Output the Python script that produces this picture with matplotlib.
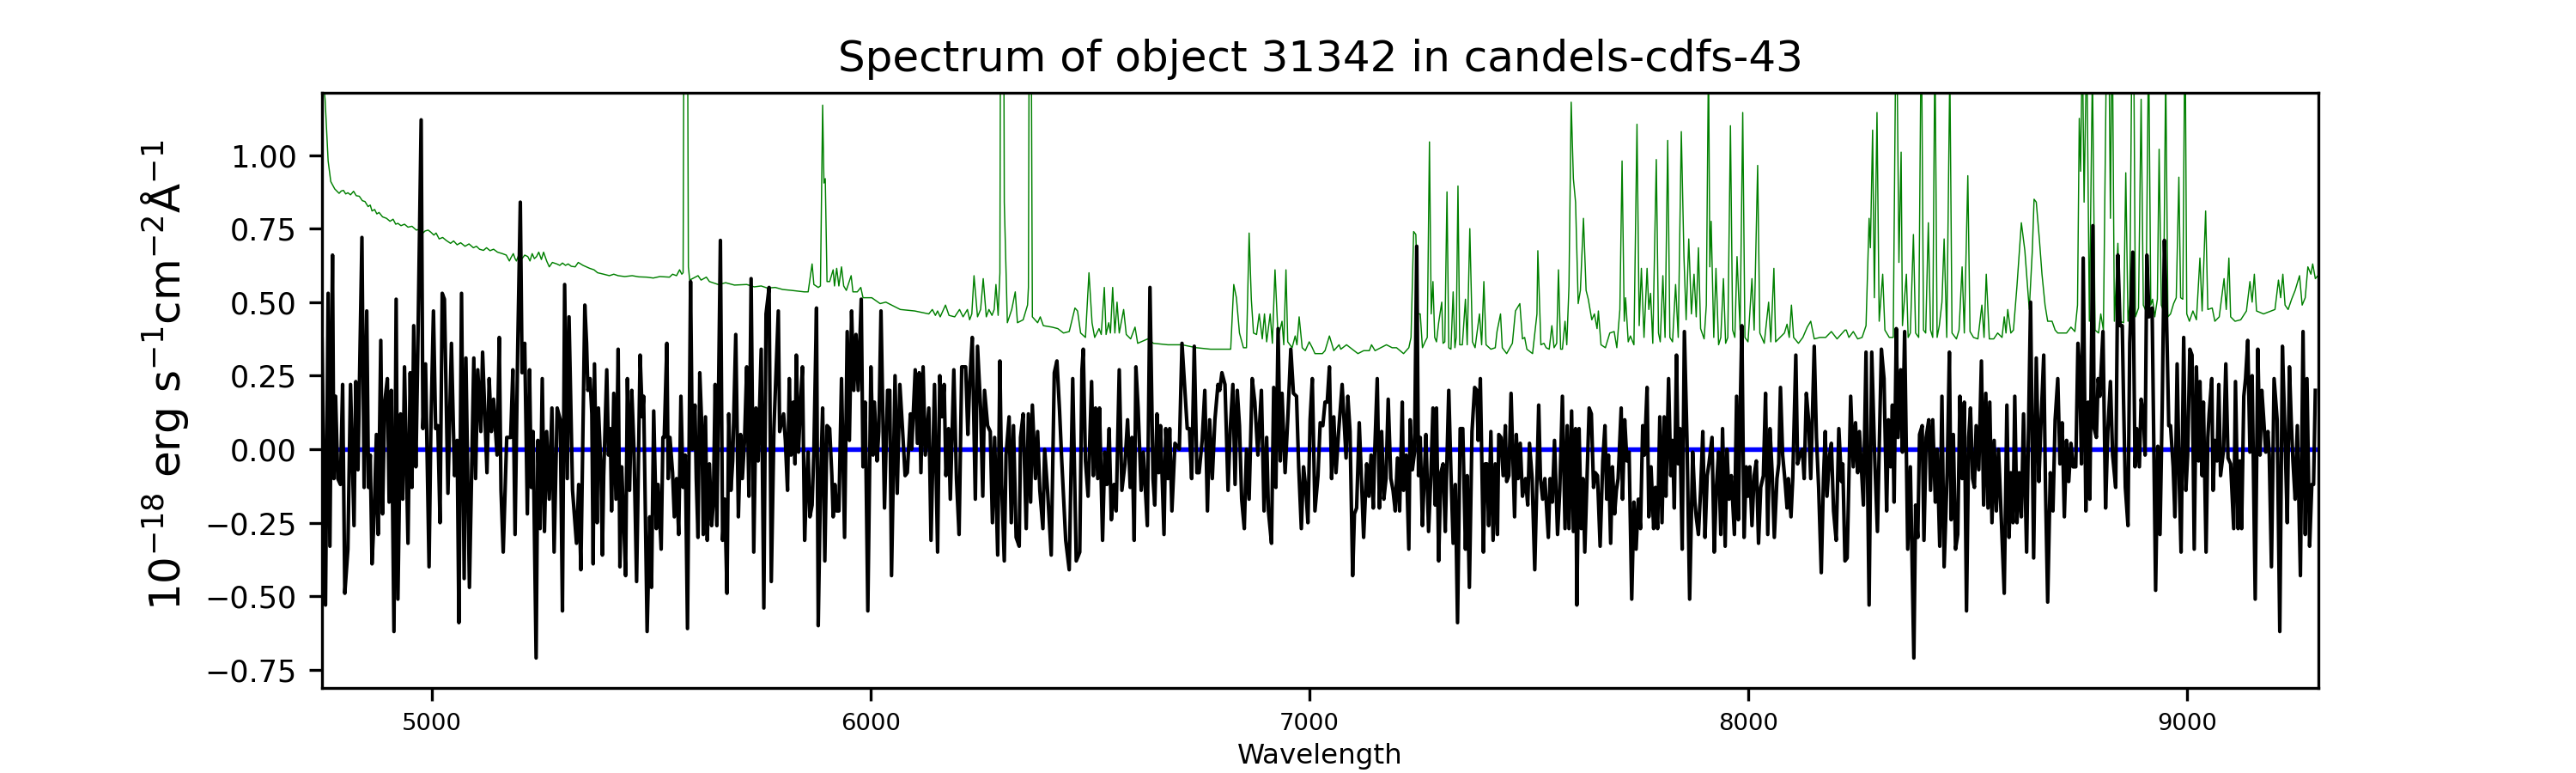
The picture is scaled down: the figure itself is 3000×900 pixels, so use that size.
import matplotlib
matplotlib.use("Agg")
import matplotlib.pyplot as plt

# object spectrum in eight chunks (wavelength in A, flux in 1e-18 cgs)
wl1 = [4750, 4758, 4764, 4768, 4774, 4777, 4781, 4786, 4792, 4797,
       4802, 4809, 4815, 4823, 4827, 4832, 4841, 4846, 4852, 4856,
       4860, 4864, 4869, 4874, 4878, 4884, 4888, 4893, 4899, 4903,
       4908, 4914, 4919, 4923, 4929, 4934, 4938, 4946, 4951, 4955,
       4959, 4964, 4968, 4976, 4980, 4986, 4994, 4998, 5004, 5009,
       5014, 5019, 5024, 5029, 5037, 5045, 5052, 5058, 5062, 5068,
       5074, 5078, 5086, 5096, 5100, 5105, 5112, 5116, 5122, 5126,
       5131, 5136, 5141, 5149, 5154, 5158, 5163, 5171, 5180, 5185,
       5190, 5196, 5202, 5206, 5212, 5218, 5223, 5227, 5231, 5238,
       5242, 5247, 5252, 5257, 5262, 5268, 5274, 5279, 5286, 5293,
       5298, 5303, 5309, 5313, 5321]
fx1 = [0.375, -0.53, 0.53, -0.33, 0.66, -0.10, 0.18, -0.10, -0.12, 0.22,
       -0.49, -0.34, 0.22, -0.26, 0.23, -0.07, 0.72, -0.13, 0.47, -0.13,
       -0.02, -0.39, -0.22, 0.05, -0.29, 0.37, -0.22, 0.16, 0.24, -0.18,
       0.20, -0.62, 0.51, -0.51, 0.12, -0.17, 0.28, -0.32, 0.26, -0.13,
       0.42, -0.06, 0.30, 1.12, 0.07, 0.29, -0.40, 0.06, 0.47, 0.07,
       0.08, -0.25, 0.53, 0.51, -0.15, 0.36, -0.09, 0.03, -0.59, 0.53,
       -0.44, 0.31, -0.47, 0.31, -0.10, 0.27, 0.06, 0.33, 0.08, -0.08,
       0.24, 0.06, 0.17, -0.02, 0.38, -0.14, -0.35, 0.04, 0.04, 0.27,
       -0.29, 0.34, 0.84, 0.26, 0.36, -0.22, 0.27, -0.13, 0.06, -0.71,
       0.03, -0.27, 0.24, -0.28, 0.06, -0.17, 0.14, -0.35, 0.14, 0.10,
       -0.55, 0.56, -0.10, 0.45, -0.14]

wl2 = [5330, 5335, 5340, 5349, 5353, 5356, 5361, 5365, 5368, 5371,
       5377, 5380, 5386, 5389, 5392, 5399, 5403, 5407, 5410, 5415,
       5420, 5425, 5429, 5433, 5438, 5442, 5446, 5451, 5456, 5461,
       5467, 5475, 5480, 5483, 5491, 5497, 5501, 5506, 5512, 5516,
       5523, 5527, 5530, 5536, 5539, 5543, 5549, 5553, 5558, 5563,
       5568, 5573, 5578, 5583, 5590, 5594, 5600, 5603, 5607, 5611,
       5616, 5619, 5624, 5628, 5633, 5638, 5642, 5646, 5650, 5658,
       5663, 5668, 5673, 5677, 5682, 5686, 5693, 5699, 5704, 5708,
       5713, 5718, 5723, 5728, 5734, 5739, 5744, 5751, 5757, 5762,
       5769, 5774, 5780, 5790, 5793, 5802, 5806, 5811, 5815, 5819,
       5824, 5828, 5831, 5836, 5840, 5845, 5850, 5854, 5858, 5862,
       5867, 5871, 5877, 5881, 5886, 5891, 5896, 5901]
fx2 = [-0.32, -0.12, -0.41, 0.49, 0.36, 0.20, 0.24, 0.12, -0.39, 0.29,
       -0.25, 0.14, -0.08, -0.36, -0.09, 0.27, -0.02, 0.07, -0.21, 0.19,
       -0.17, 0.34, -0.40, -0.06, -0.26, -0.43, 0.24, -0.14, 0.20, 0.00,
       -0.45, 0.32, 0.11, 0.18, -0.62, -0.23, -0.47, 0.13, -0.27, -0.12,
       -0.34, 0.04, 0.04, 0.36, -0.10, 0.04, -0.08, -0.23, -0.10, -0.29,
       0.18, -0.13, -0.02, -0.61, 0.57, 0.00, 0.15, -0.10, -0.30, 0.26,
       0.06, -0.29, 0.11, -0.31, -0.05, -0.26, -0.18, 0.22, -0.26, 0.71,
       -0.31, -0.17, -0.49, 0.12, -0.14, -0.04, 0.39, -0.23, 0.05, -0.10,
       0.03, 0.28, -0.16, 0.58, -0.35, 0.14, -0.04, 0.34, -0.54, 0.46,
       0.55, -0.45, 0.07, 0.47, 0.06, 0.12, 0.03, -0.14, 0.24, -0.02,
       0.16, -0.05, 0.32, -0.01, 0.14, 0.28, -0.31, -0.13, -0.01, -0.23,
       -0.19, -0.01, 0.48, -0.60, -0.13, 0.14, -0.38, 0.08]

wl3 = [5907, 5912, 5915, 5919, 5923, 5928, 5934, 5941, 5947, 5952,
       5957, 5962, 5967, 5972, 5979, 5983, 5988, 5994, 6001, 6006,
       6009, 6015, 6019, 6024, 6032, 6039, 6044, 6048, 6056, 6061,
       6067, 6073, 6079, 6084, 6091, 6094, 6102, 6107, 6111, 6115,
       6120, 6125, 6133, 6138, 6146, 6153, 6158, 6163, 6168, 6172,
       6178, 6182, 6190, 6196, 6202, 6208, 6217, 6222, 6226, 6232,
       6239, 6244, 6251, 6256, 6260, 6267, 6273, 6278, 6283, 6290,
       6295, 6299, 6305, 6309, 6316, 6321, 6326, 6332, 6339, 6342,
       6348, 6355, 6360, 6365, 6369, 6376, 6381, 6386, 6393, 6397,
       6404, 6412, 6419, 6425, 6431, 6436, 6445, 6453, 6461, 6469,
       6477, 6482, 6485, 6490]
fx3 = [0.07, -0.09, -0.23, -0.12, -0.21, -0.21, 0.24, -0.30, 0.40, 0.03,
       0.47, 0.20, 0.39, 0.20, 0.51, -0.06, 0.16, -0.55, 0.28, -0.02,
       0.16, -0.04, 0.06, 0.47, -0.20, 0.20, 0.20, -0.43, 0.25, -0.15,
       0.22, 0.07, -0.09, -0.08, 0.12, 0.00, 0.27, 0.02, 0.26, -0.08,
       0.28, -0.02, 0.14, -0.31, 0.22, -0.35, 0.25, 0.11, 0.22, -0.09,
       0.07, -0.17, 0.27, -0.10, -0.29, 0.28, 0.28, 0.05, 0.22, 0.38,
       -0.17, 0.35, 0.14, -0.16, 0.20, 0.08, 0.06, -0.25, 0.04, -0.36,
       0.30, -0.12, -0.38, -0.02, 0.11, -0.25, 0.08, -0.30, -0.33, 0.04,
       0.12, -0.27, 0.12, -0.18, 0.15, -0.10, 0.06, -0.14, -0.27, 0.00,
       -0.15, -0.36, 0.26, 0.30, 0.13, -0.04, -0.31, -0.41, 0.24, -0.38,
       -0.35, 0.27, 0.34, -0.04]

wl4 = [6496, 6504, 6508, 6513, 6518, 6522, 6529, 6534, 6539, 6544,
       6549, 6555, 6560, 6567, 6573, 6580, 6586, 6592, 6596, 6601,
       6605, 6610, 6617, 6622, 6631, 6637, 6644, 6648, 6653, 6657,
       6661, 6669, 6673, 6678, 6682, 6687, 6694, 6704, 6710, 6717,
       6722, 6727, 6732, 6738, 6744, 6749, 6756, 6762, 6768, 6773,
       6779, 6785, 6792, 6796, 6801, 6808, 6815, 6820, 6826, 6831,
       6836, 6841, 6846, 6852, 6857, 6863, 6870, 6876, 6883, 6891,
       6897, 6903, 6907, 6914, 6919, 6924, 6929, 6934, 6938, 6945,
       6951, 6958, 6964, 6971, 6976, 6982, 6987, 6992, 6997, 7002,
       7007, 7013, 7020, 7025, 7031, 7036, 7041, 7046, 7051, 7056,
       7061, 7067]
fx4 = [-0.16, 0.23, -0.09, 0.14, -0.10, 0.14, -0.31, -0.01, -0.12, 0.07,
       -0.24, -0.12, -0.21, 0.27, -0.14, -0.05, 0.10, -0.13, 0.04, -0.31,
       0.28, 0.14, -0.14, -0.01, -0.26, 0.55, -0.10, -0.19, 0.12, -0.08,
       0.08, -0.29, 0.07, -0.10, 0.07, -0.21, 0.02, 0.00, 0.36, 0.19,
       0.07, 0.07, -0.10, 0.35, -0.08, -0.08, 0.03, 0.20, -0.21, 0.10,
       -0.10, 0.10, 0.22, 0.20, 0.26, 0.22, -0.14, 0.07, 0.22, -0.12,
       0.20, 0.08, -0.17, -0.27, 0.00, -0.17, 0.24, 0.16, -0.02, 0.20,
       -0.21, 0.04, -0.21, -0.32, 0.21, -0.13, 0.41, -0.04, 0.19, -0.08,
       0.10, 0.34, 0.19, 0.18, -0.06, -0.27, -0.06, -0.13, -0.25, 0.10,
       0.24, -0.21, -0.09, 0.09, 0.08, 0.16, 0.16, 0.28, -0.10, 0.11,
       -0.08, 0.06]

wl5 = [7075, 7084, 7088, 7093, 7099, 7103, 7108, 7114, 7119, 7124,
       7131, 7136, 7141, 7146, 7149, 7155, 7160, 7165, 7170, 7175,
       7180, 7186, 7191, 7196, 7201, 7206, 7212, 7215, 7221, 7227,
       7230, 7235, 7240, 7245, 7249, 7253, 7258, 7262, 7266, 7272,
       7277, 7282, 7287, 7290, 7295, 7300, 7305, 7310, 7313, 7318,
       7323, 7328, 7333, 7338, 7344, 7350, 7356, 7360, 7365, 7371,
       7377, 7382, 7385, 7390, 7397, 7401, 7405, 7409, 7414, 7419,
       7424, 7429, 7432, 7437, 7442, 7447, 7450, 7455, 7460, 7468,
       7472, 7476, 7481, 7486, 7493, 7498, 7502, 7508, 7514, 7519,
       7523, 7527, 7532, 7537, 7545, 7549, 7554, 7559, 7566, 7571,
       7577, 7583, 7588, 7592, 7598, 7602, 7607, 7610, 7615, 7620,
       7624, 7628, 7633, 7638, 7643]
fx5 = [0.22, -0.03, 0.18, 0.06, -0.43, -0.22, -0.20, 0.09, -0.10, -0.30,
       -0.05, -0.16, -0.02, -0.20, -0.02, 0.24, -0.20, 0.06, -0.17, -0.10,
       0.17, -0.10, -0.14, -0.21, -0.03, -0.21, 0.16, -0.14, -0.02, -0.34,
       0.10, -0.07, -0.01, 0.69, -0.09, 0.04, -0.26, -0.10, 0.05, -0.28,
       -0.10, 0.14, -0.19, 0.14, -0.38, -0.08, -0.05, -0.28, -0.09, 0.20,
       -0.08, -0.32, -0.12, -0.59, 0.07, 0.07, -0.34, -0.09, -0.47, 0.06,
       0.21, 0.20, 0.03, 0.24, -0.35, -0.05, -0.05, -0.26, 0.06, -0.31,
       -0.05, -0.29, 0.05, 0.04, -0.09, 0.08, -0.11, -0.09, 0.19, -0.23,
       0.05, -0.10, 0.02, -0.16, -0.10, -0.19, 0.02, -0.10, -0.41, -0.10,
       0.15, -0.10, -0.17, -0.10, -0.30, -0.10, -0.18, 0.03, -0.29, -0.14,
       0.18, -0.27, 0.08, -0.27, 0.13, -0.28, 0.07, -0.53, 0.07, -0.27,
       -0.10, -0.35, -0.10, 0.14, 0.12]

wl6 = [7648, 7652, 7657, 7663, 7669, 7674, 7678, 7682, 7687, 7691,
       7696, 7700, 7704, 7711, 7714, 7719, 7724, 7729, 7735, 7740,
       7745, 7750, 7755, 7760, 7764, 7770, 7774, 7779, 7785, 7789,
       7794, 7799, 7804, 7809, 7813, 7819, 7824, 7828, 7832, 7837,
       7841, 7845, 7850, 7855, 7861, 7867, 7874, 7879, 7882, 7887,
       7892, 7897, 7902, 7907, 7911, 7918, 7923, 7928, 7933, 7938,
       7942, 7948, 7952, 7957, 7962, 7969, 7974, 7978, 7982, 7986,
       7991, 7996, 8000, 8004, 8009, 8014, 8019, 8024, 8029, 8035,
       8040, 8045, 8050, 8055, 8060, 8066, 8070, 8074, 8079, 8085,
       8089, 8092, 8098, 8102, 8109, 8113, 8118, 8124, 8128, 8133,
       8138, 8143, 8151, 8156, 8161, 8167, 8172, 8176, 8180, 8186,
       8190, 8195, 8201, 8207, 8213, 8216, 8221]
fx6 = [-0.13, -0.08, -0.09, -0.33, -0.04, 0.08, -0.17, -0.02, -0.32, -0.06,
       -0.22, -0.14, -0.10, 0.14, -0.17, 0.10, -0.04, -0.01, -0.51, -0.18,
       -0.34, -0.17, -0.27, 0.08, -0.02, 0.21, -0.23, -0.06, -0.27, -0.13,
       -0.27, 0.11, -0.25, 0.11, -0.16, 0.24, -0.09, 0.03, -0.20, 0.32,
       -0.05, 0.07, -0.34, 0.40, 0.03, -0.51, -0.01, -0.18, -0.23, -0.29,
       -0.14, 0.06, -0.30, -0.09, -0.05, 0.04, -0.35, -0.13, -0.01, -0.29,
       0.07, -0.33, 0.00, -0.17, -0.09, -0.29, 0.18, -0.24, 0.11, 0.42,
       -0.30, -0.06, -0.16, -0.06, -0.26, -0.09, -0.04, -0.32, -0.13, -0.09,
       0.19, -0.29, 0.07, -0.08, -0.30, -0.10, -0.05, 0.21, -0.02, -0.12,
       -0.20, -0.10, -0.23, -0.10, 0.32, -0.05, -0.02, 0.00, -0.10, 0.19,
       0.10, -0.10, 0.35, 0.04, -0.13, -0.42, -0.10, 0.06, -0.16, -0.02,
       0.02, -0.21, -0.31, 0.07, -0.11, -0.05, -0.38]

wl7 = [8226, 8234, 8240, 8245, 8250, 8254, 8263, 8269, 8276, 8282,
       8289, 8295, 8304, 8310, 8316, 8320, 8325, 8329, 8333, 8338,
       8342, 8348, 8352, 8357, 8364, 8370, 8378, 8382, 8387, 8391,
       8397, 8401, 8406, 8412, 8416, 8421, 8427, 8431, 8437, 8442,
       8447, 8454, 8459, 8463, 8468, 8473, 8478, 8483, 8488, 8493,
       8498, 8503, 8507, 8512, 8516, 8520, 8526, 8532, 8537, 8542,
       8547, 8551, 8556, 8561, 8566, 8571, 8576, 8584, 8590, 8595,
       8599, 8604, 8608, 8613, 8618, 8623, 8628, 8635, 8639, 8644,
       8651, 8657, 8663, 8667, 8674, 8678, 8683, 8689, 8695, 8700,
       8706, 8711, 8716, 8721, 8726, 8731, 8736, 8741, 8747, 8752,
       8756, 8760, 8764, 8770, 8775, 8779, 8786]
fx7 = [-0.37, 0.18, -0.06, 0.09, -0.08, 0.06, -0.19, 0.33, -0.53, 0.33,
       -0.04, -0.28, 0.34, 0.24, -0.21, 0.10, -0.06, 0.15, -0.18, 0.41,
       0.04, 0.27, -0.01, 0.40, -0.34, -0.06, -0.71, -0.19, -0.30, 0.05,
       0.08, -0.31, 0.04, 0.10, -0.14, 0.10, -0.18, 0.00, -0.33, 0.18,
       -0.40, -0.08, 0.33, -0.24, 0.05, -0.34, -0.29, 0.18, -0.10, 0.16,
       -0.55, 0.04, 0.14, -0.10, -0.13, 0.08, -0.07, 0.30, -0.19, 0.19,
       -0.20, 0.16, -0.25, 0.03, -0.21, 0.00, -0.19, -0.49, 0.15, -0.30,
       -0.08, -0.25, 0.18, -0.25, -0.08, -0.23, 0.12, -0.35, 0.04, 0.50,
       -0.37, 0.31, -0.11, 0.06, 0.32, -0.13, -0.52, -0.08, -0.21, 0.10,
       0.24, -0.05, 0.09, -0.23, 0.03, -0.11, 0.02, -0.06, -0.06, 0.36,
       0.27, -0.05, 0.65, -0.21, 0.16, -0.17, 0.76]

wl8 = [8789, 8794, 8798, 8802, 8809, 8815, 8820, 8826, 8831, 8838,
       8843, 8848, 8853, 8856, 8860, 8866, 8870, 8877, 8882, 8886,
       8892, 8896, 8901, 8905, 8909, 8914, 8921, 8929, 8934, 8939,
       8944, 8949, 8954, 8959, 8963, 8969, 8973, 8978, 8983, 8987,
       8993, 8998, 9002, 9007, 9012, 9017, 9022, 9027, 9030, 9035,
       9038, 9044, 9048, 9051, 9057, 9060, 9064, 9069, 9073, 9077,
       9084, 9089, 9094, 9100, 9107, 9111, 9117, 9121, 9125, 9130,
       9134, 9139, 9144, 9149, 9156, 9162, 9167, 9171, 9175, 9180,
       9185, 9188, 9193, 9199, 9206, 9212, 9218, 9224, 9229, 9234,
       9238, 9242, 9247, 9252, 9259, 9265, 9270, 9274, 9280, 9285,
       9289, 9293]
fx8 = [0.07, 0.04, 0.24, 0.18, 0.40, -0.20, 0.06, 0.23, -0.02, -0.13,
       0.66, 0.42, 0.42, 0.16, -0.13, -0.26, 0.36, 0.67, -0.06, 0.07,
       -0.06, 0.17, 0.12, -0.02, 0.66, 0.45, 0.48, -0.48, 0.01, -0.29,
       0.14, 0.71, 0.44, 0.08, 0.08, -0.06, -0.23, 0.29, -0.12, -0.35,
       0.38, -0.14, -0.02, 0.34, 0.32, -0.34, 0.28, -0.04, 0.23, -0.09,
       0.16, -0.35, 0.04, 0.12, 0.24, -0.14, 0.03, -0.04, 0.22, -0.09,
       0.00, 0.29, -0.03, -0.05, -0.27, 0.23, -0.27, -0.04, -0.27, 0.18,
       0.24, 0.37, -0.01, 0.25, -0.51, 0.34, -0.02, 0.20, 0.11, -0.01,
       0.06, -0.02, -0.40, 0.24, 0.10, -0.62, 0.35, 0.04, -0.25, 0.28,
       0.10, -0.04, -0.17, 0.08, -0.43, 0.40, -0.29, 0.24, -0.33, -0.12,
       -0.12, 0.20]

# noise spectrum (green) with the sky lines; peaks above the frame get clipped
err_wl_a = [4750, 4757, 4760, 4764, 4770, 4779, 4789, 4794, 4799, 4804,
            4809, 4815, 4822, 4828, 4835, 4842, 4848, 4855, 4860, 4864,
            4870, 4875, 4880, 4888, 4897, 4905, 4912, 4918, 4923, 4930,
            4938, 4946, 4955, 4965, 4972, 4980, 4985, 4992, 4998, 5005,
            5010, 5017, 5025, 5033, 5043, 5050, 5058, 5066, 5076, 5085,
            5095, 5102, 5109, 5118, 5125, 5133, 5141, 5150, 5161, 5170,
            5177, 5181, 5186, 5190, 5193, 5197, 5200, 5206, 5212, 5219,
            5224, 5229, 5234, 5239, 5244, 5250, 5255, 5262, 5268, 5275,
            5285, 5292, 5298, 5305, 5311, 5318, 5327]
err_fx_a = [1.30, 1.19, 1.10, 0.98, 0.91, 0.885, 0.87, 0.878, 0.88, 0.868,
            0.872, 0.865, 0.877, 0.862, 0.86, 0.845, 0.842, 0.825, 0.83, 0.81,
            0.815, 0.80, 0.805, 0.79, 0.785, 0.775, 0.782, 0.765, 0.768, 0.76,
            0.765, 0.755, 0.758, 0.745, 0.748, 0.735, 0.742, 0.745, 0.738, 0.728,
            0.735, 0.715, 0.72, 0.71, 0.70, 0.708, 0.695, 0.702, 0.69, 0.698,
            0.685, 0.69, 0.68, 0.676, 0.685, 0.675, 0.68, 0.67, 0.665, 0.66,
            0.64, 0.652, 0.665, 0.648, 0.64, 0.655, 0.67, 0.648, 0.66, 0.655,
            0.64, 0.665, 0.648, 0.655, 0.67, 0.645, 0.67, 0.64, 0.62, 0.635,
            0.63, 0.625, 0.633, 0.625, 0.63, 0.622, 0.62]

err_wl_b = [5334, 5345, 5360, 5370, 5378, 5392, 5405, 5415, 5425, 5440,
            5457, 5472, 5490, 5505, 5520, 5542, 5549, 5558, 5565, 5570,
            5573, 5576, 5579, 5582, 5585, 5588, 5607, 5614, 5626, 5633,
            5653, 5670, 5690, 5718, 5735, 5751, 5765, 5783, 5800, 5820,
            5849, 5858, 5867, 5871, 5881, 5886, 5891, 5894, 5897, 5901,
            5907]
err_fx_b = [0.635, 0.625, 0.615, 0.61, 0.60, 0.595, 0.59, 0.595, 0.59, 0.587,
            0.59, 0.586, 0.585, 0.582, 0.587, 0.585, 0.595, 0.59, 0.61, 0.595,
            0.60, 2.0, 2.5, 2.0, 0.62, 0.575, 0.59, 0.575, 0.585, 0.57,
            0.56, 0.566, 0.558, 0.56, 0.552, 0.555, 0.548, 0.55, 0.543, 0.54,
            0.535, 0.535, 0.63, 0.56, 0.55, 0.555, 1.17, 0.905, 0.92, 0.57,
            0.57]

err_wl_c = [5915, 5918, 5923, 5928, 5934, 5939, 5945, 5956, 5960, 5970,
            5978, 5983, 6003, 6022, 6035, 6068, 6101, 6133, 6141, 6148,
            6153, 6159, 6171, 6179, 6192, 6203, 6211, 6221, 6226, 6231,
            6236, 6244, 6251, 6257, 6264, 6270, 6277, 6282, 6286, 6291,
            6295, 6298, 6302, 6305, 6312, 6322, 6330, 6335, 6348, 6358,
            6360, 6362, 6366, 6369, 6381, 6387, 6394, 6414, 6427, 6440,
            6453, 6466, 6472, 6479, 6490,
            6498, 6505, 6511, 6521, 6526, 6533, 6537, 6543, 6547, 6552,
            6557, 6562, 6567, 6577, 6583, 6593, 6603, 6609, 6632, 6645,
            6678, 6710, 6743, 6775, 6821, 6828, 6834, 6841, 6850, 6857,
            6863, 6868, 6873, 6880, 6886, 6893, 6898, 6903, 6911, 6916,
            6922, 6929, 6938, 6942, 6947, 6951, 6961, 6968, 6972, 6977,
            6984, 6991, 7000, 7007, 7013, 7030, 7036, 7046, 7056, 7068]
err_fx_c = [0.61, 0.555, 0.615, 0.555, 0.62, 0.555, 0.54, 0.59, 0.535, 0.535,
            0.55, 0.515, 0.515, 0.495, 0.50, 0.475, 0.47, 0.46, 0.475, 0.455,
            0.47, 0.45, 0.49, 0.455, 0.45, 0.475, 0.45, 0.475, 0.44, 0.46,
            0.59, 0.45, 0.475, 0.58, 0.45, 0.475, 0.455, 0.475, 0.56, 0.455,
            0.60, 2.5, 2.5, 0.84, 0.43, 0.475, 0.535, 0.43, 0.44, 0.49,
            0.55, 1.6, 1.6, 0.45, 0.43, 0.45, 0.42, 0.415, 0.41, 0.395,
            0.40, 0.48, 0.47, 0.395, 0.38,
            0.60, 0.43, 0.38, 0.41, 0.39, 0.55, 0.39, 0.43, 0.395, 0.55,
            0.395, 0.50, 0.395, 0.475, 0.39, 0.375, 0.415, 0.36, 0.375, 0.36,
            0.355, 0.355, 0.345, 0.34, 0.34, 0.56, 0.515, 0.395, 0.345, 0.345,
            0.735, 0.51, 0.395, 0.39, 0.46, 0.375, 0.46, 0.365, 0.46, 0.36,
            0.61, 0.38, 0.435, 0.355, 0.61, 0.365, 0.345, 0.385, 0.355, 0.45,
            0.345, 0.335, 0.365, 0.345, 0.325, 0.325, 0.335, 0.385, 0.335, 0.355]

err_wl_d = [7072, 7085, 7098, 7111, 7124, 7137, 7142, 7150, 7176, 7189,
            7199, 7215, 7227, 7232, 7238, 7243, 7248, 7253, 7258, 7264,
            7269, 7274, 7278, 7282, 7286, 7290, 7295, 7302, 7305, 7309,
            7314, 7318, 7323, 7328, 7332, 7335, 7339, 7343, 7349, 7356,
            7360, 7366, 7372, 7378, 7388, 7393, 7398, 7403, 7414, 7424,
            7428, 7436, 7440, 7450, 7463, 7470, 7480, 7483, 7486, 7491,
            7496, 7509, 7519, 7521, 7526, 7528, 7535, 7540, 7547, 7553,
            7558, 7564, 7568, 7573, 7577, 7583, 7587, 7592, 7597, 7602,
            7607, 7613, 7618, 7625, 7631, 7636, 7644,
            7650, 7656, 7659, 7665, 7675, 7685, 7695, 7701, 7708, 7713,
            7718, 7721, 7727, 7732, 7740, 7747, 7752, 7757, 7763, 7770,
            7774, 7778, 7783, 7791, 7796, 7800, 7806, 7811, 7817, 7822,
            7828, 7835, 7841, 7848, 7854, 7859, 7865, 7871, 7877, 7882,
            7887, 7892, 7900, 7905, 7910, 7913, 7916, 7922, 7927, 7933,
            7938, 7944, 7949, 7954, 7960, 7965, 7970, 7975, 7982, 7988,
            7993, 8000, 8009, 8014, 8022, 8027, 8037, 8047, 8052, 8059,
            8063, 8073, 8083, 8089, 8094, 8099, 8104, 8115, 8125, 8135,
            8143, 8151, 8164, 8177, 8190, 8203, 8221]
err_fx_d = [0.34, 0.355, 0.34, 0.325, 0.335, 0.335, 0.355, 0.335, 0.355, 0.345,
            0.345, 0.325, 0.345, 0.38, 0.74, 0.73, 0.46, 0.46, 0.345, 0.365,
            0.38, 1.045, 0.46, 0.57, 0.38, 0.365, 0.43, 0.50, 0.36, 0.365,
            0.875, 0.345, 0.34, 0.535, 0.345, 0.38, 0.895, 0.355, 0.355, 0.51,
            0.355, 0.75, 0.365, 0.345, 0.46, 0.355, 0.57, 0.355, 0.34, 0.345,
            0.40, 0.46, 0.345, 0.325, 0.36, 0.47, 0.495, 0.435, 0.375, 0.38,
            0.34, 0.325, 0.46, 0.675, 0.45, 0.355, 0.36, 0.345, 0.34, 0.42,
            0.345, 0.36, 0.61, 0.34, 0.34, 0.435, 0.355, 0.555, 1.18, 0.92,
            0.84, 0.495, 0.54, 0.785, 0.54, 0.51, 0.44,
            0.46, 0.41, 0.47, 0.355, 0.345, 0.395, 0.40, 0.345, 0.475, 0.98,
            0.435, 0.515, 0.365, 0.385, 0.355, 1.105, 0.42, 0.615, 0.38, 0.615,
            0.475, 0.53, 0.36, 0.985, 0.395, 0.365, 0.59, 0.38, 1.05, 0.38,
            0.365, 0.56, 0.38, 1.08, 0.655, 0.44, 0.715, 0.46, 0.595, 0.45,
            0.685, 0.41, 0.375, 0.49, 1.35, 0.62, 0.775, 0.38, 0.615, 0.355,
            0.38, 0.58, 0.36, 0.38, 1.10, 0.405, 0.38, 0.655, 0.405, 1.145,
            0.38, 0.365, 0.58, 0.405, 0.965, 0.395, 0.36, 0.50, 0.365, 0.615,
            0.365, 0.38, 0.395, 0.425, 0.38, 0.49, 0.38, 0.36, 0.38, 0.415,
            0.435, 0.375, 0.38, 0.38, 0.40, 0.375, 0.405]

err_wl_e = [8224, 8230, 8240, 8250, 8260, 8269, 8276, 8279, 8284, 8288,
            8294, 8299, 8307, 8312, 8322, 8331, 8338, 8344, 8349, 8352,
            8361, 8365, 8370, 8377, 8382, 8389, 8395, 8400, 8405, 8411,
            8416, 8421, 8426, 8431, 8436, 8442, 8447, 8453, 8460, 8465,
            8475, 8481, 8488, 8493, 8501, 8506, 8514, 8524, 8533, 8538,
            8543, 8550, 8560, 8569, 8579, 8584, 8588, 8592, 8599, 8605,
            8613, 8623, 8631, 8641, 8648, 8652, 8657, 8664, 8670, 8677,
            8683, 8693, 8700, 8706, 8716, 8726, 8736, 8745, 8751, 8755,
            8758, 8762, 8766, 8772, 8778, 8785, 8791, 8799,
            8804, 8810, 8818, 8822, 8826, 8830, 8835, 8843, 8848, 8856,
            8861, 8866, 8870, 8875, 8879, 8883, 8890, 8896, 8901, 8907,
            8913, 8918, 8922, 8927, 8933, 8937, 8942, 8947, 8952, 8957,
            8963, 8970, 8976, 8982, 8986, 8991, 8996, 9000, 9006, 9014,
            9022, 9030, 9035, 9043, 9048, 9058, 9064, 9074, 9085, 9090,
            9096, 9100, 9110, 9123, 9136, 9144, 9149, 9154, 9159, 9175,
            9192, 9201, 9209, 9214, 9219, 9224, 9231, 9239, 9247, 9257,
            9263, 9270, 9276, 9283, 9287, 9293, 9299]
err_fx_e = [0.405, 0.38, 0.40, 0.375, 0.38, 0.42, 0.785, 0.685, 1.085, 0.515,
            1.145, 0.435, 0.595, 0.405, 0.38, 0.38, 1.6, 0.635, 1.01, 0.42,
            0.595, 0.38, 0.395, 0.73, 0.395, 0.38, 1.5, 0.405, 0.395, 0.77,
            0.405, 0.38, 1.4, 0.38, 0.42, 0.50, 0.715, 0.38, 1.3, 0.395,
            0.375, 0.405, 0.62, 0.395, 0.93, 0.40, 0.38, 0.375, 0.49, 0.38,
            0.595, 0.375, 0.375, 0.395, 0.38, 0.45, 0.395, 0.475, 0.395, 0.405,
            0.555, 0.77, 0.675, 0.475, 0.675, 0.85, 0.84, 0.715, 0.595, 0.49,
            0.435, 0.435, 0.405, 0.395, 0.395, 0.395, 0.415, 0.40, 0.49, 1.125,
            0.945, 1.4, 0.84, 1.4, 0.435, 1.3, 0.405, 0.395,
            0.46, 0.405, 1.5, 1.5, 0.785, 1.5, 0.435, 0.70, 0.435, 0.43,
            0.94, 0.435, 0.49, 1.4, 1.4, 0.45, 0.48, 1.19, 0.49, 0.47,
            1.4, 0.49, 0.51, 0.45, 0.51, 1.02, 0.49, 0.47, 1.3, 0.45,
            0.46, 0.495, 0.515, 0.925, 0.515, 0.51, 1.5, 0.46, 0.435, 0.47,
            0.44, 0.65, 0.47, 0.81, 0.475, 0.48, 0.435, 0.45, 0.58, 0.475,
            0.65, 0.45, 0.435, 0.44, 0.47, 0.57, 0.50, 0.595, 0.47, 0.46,
            0.47, 0.475, 0.575, 0.515, 0.595, 0.49, 0.475, 0.51, 0.54, 0.59,
            0.49, 0.515, 0.62, 0.595, 0.63, 0.58, 0.59]

wave = wl1 + wl2 + wl3 + wl4 + wl5 + wl6 + wl7 + wl8
flux = fx1 + fx2 + fx3 + fx4 + fx5 + fx6 + fx7 + fx8
err_wl = err_wl_a + err_wl_b + err_wl_c + err_wl_d + err_wl_e
err_fx = err_fx_a + err_fx_b + err_fx_c + err_fx_d + err_fx_e
n = min(len(wave), len(flux))
m = min(len(err_wl), len(err_fx))

fig, ax = plt.subplots(figsize=(10, 3))
ax.plot(err_wl[:m], err_fx[:m], color="green", lw=0.35)
ax.axhline(0, color="blue", lw=1.3)
ax.plot(wave[:n], flux[:n], color="black", lw=1.0)

ax.set_xlim(4750, 9300)
ax.set_ylim(-0.812, 1.212)
ax.set_title("Spectrum of object 31342 in candels-cdfs-43", fontsize=12)
ax.set_xlabel("Wavelength", fontsize=7.8, labelpad=2.2)
ax.set_ylabel(r"$10^{-18}$ erg s$^{-1}$cm$^{-2}$Å$^{-1}$", fontsize=12)
ax.yaxis.label.set_y(0.525)
ax.tick_params(axis="x", labelsize=6.6)
ax.tick_params(axis="y", labelsize=8.4)

fig.savefig("out.png", dpi=300)
